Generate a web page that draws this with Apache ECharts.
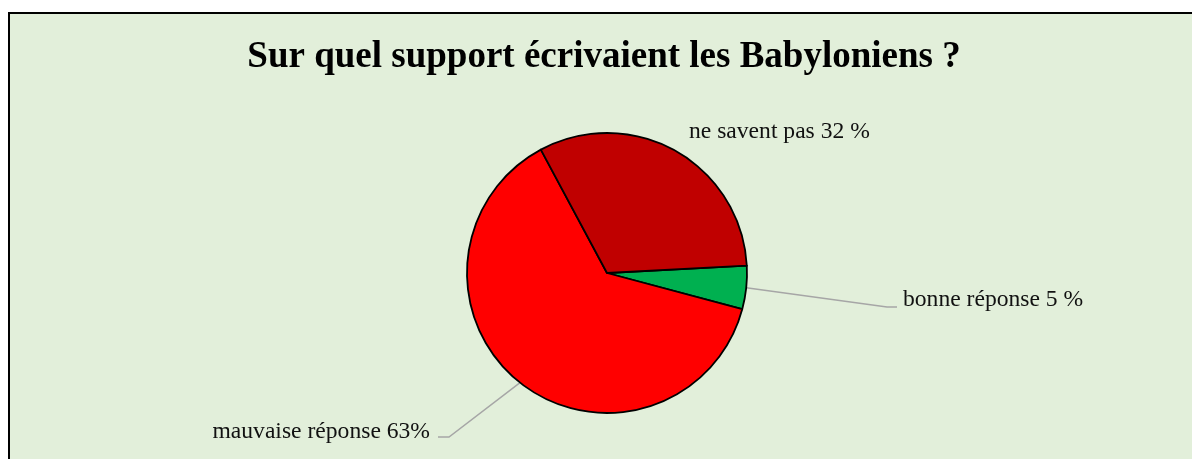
<!DOCTYPE html>
<html>
<head>
<meta charset="utf-8">
<script src="https://cdn.jsdelivr.net/npm/echarts@6/dist/echarts.min.js"></script>
<style>
  html, body { margin: 0; padding: 0; background: #ffffff; overflow: hidden; width: 1192px; height: 459px; }
  /* chart area frame: only its top and left edges fall inside the window */
  #frame {
    position: absolute; left: 8px; top: 12px; width: 1400px; height: 700px;
    border-top: 2px solid #000000; border-left: 2px solid #000000;
    background: #E2EFDA;
  }
  #chart { position: absolute; left: 0; top: 0; width: 1192px; height: 459px; }
</style>
</head>
<body>
<div id="frame"></div>
<div id="chart"></div>
<script>
// Survey answers
const categories = ['bonne réponse', 'mauvaise réponse', 'ne savent pas'];
const values = [5, 63, 32];
const sliceColors = ['#00B050', '#FF0000', '#C00000'];
const labelFormats = ['{b} {c} %', '{b} {c}%', '{b} {c} %'];
const titleText = 'Sur quel support écrivaient les Babyloniens ?';

// Pie geometry
const CX = 607, CY = 273, R = 140, START = 3;

// Label anchors relative to the pie centre, with leader line offsets
const labelSpots = [
  { dx: 296, dy: 27, align: 'left', line: true, elbowGap: 16, endGap: 6, lineDy: 7 },
  { dx: -177, dy: 159, align: 'right', line: true, elbowGap: 19, endGap: 8, lineDy: 5 },
  { dx: 82, dy: -141, align: 'left', line: false }
];

const total = values.reduce((a, b) => a + b, 0);
function midAngle(i) {
  let before = 0;
  for (let k = 0; k < i; k++) before += values[k];
  const deg = START - (before + values[i] / 2) / total * 360;
  return deg * Math.PI / 180;
}

const data = categories.map((name, i) => ({
  name: name,
  value: values[i],
  itemStyle: { color: sliceColors[i] },
  label: { formatter: labelFormats[i] },
  labelLine: { show: labelSpots[i].line }
}));

const chart = echarts.init(document.getElementById('chart'), null, { renderer: 'canvas' });
chart.setOption({
  backgroundColor: 'transparent',
  animation: false,
  graphic: {
    elements: [{
      type: 'text',
      x: 604,
      y: 57,
      silent: true,
      style: {
        text: titleText,
        font: 'bold 37px "Liberation Serif"',
        fill: '#000000',
        textAlign: 'center',
        textVerticalAlign: 'middle'
      }
    }]
  },
  series: [{
    type: 'pie',
    center: [CX, CY],
    radius: R,
    startAngle: START,
    clockwise: true,
    avoidLabelOverlap: false,
    data: data,
    itemStyle: { borderColor: '#000000', borderWidth: 1.8 },
    label: {
      show: true,
      position: 'outside',
      fontFamily: 'Liberation Serif',
      fontSize: 23.6,
      color: '#111111'
    },
    labelLine: {
      show: true,
      length: 20,
      length2: 10,
      lineStyle: { color: '#A6A6A6', width: 1.5 }
    },
    labelLayout: function (params) {
      const s = labelSpots[params.dataIndex];
      const x = CX + s.dx, y = CY + s.dy;
      const out = { x: x, y: y, align: s.align, verticalAlign: 'middle' };
      if (s.line) {
        const a = midAngle(params.dataIndex);
        const p0 = [CX + R * Math.cos(a), CY - R * Math.sin(a)];
        const sign = s.align === 'left' ? -1 : 1;
        const ly = y + s.lineDy;
        out.labelLinePoints = [p0, [x + sign * s.elbowGap, ly], [x + sign * s.endGap, ly]];
      }
      return out;
    }
  }]
});
</script>
</body>
</html>
